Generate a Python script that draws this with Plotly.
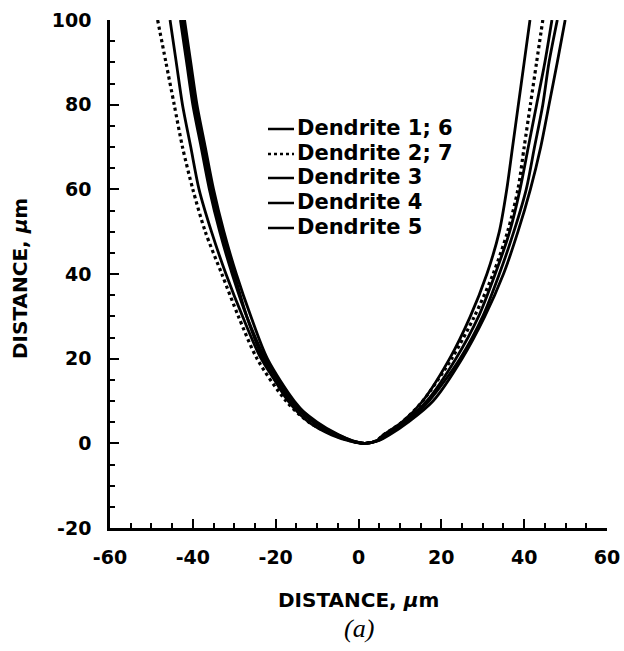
import plotly.graph_objects as go

# y levels (top to bottom) for each branch
y_levels = [100, 90, 80, 70, 60, 50, 40, 30, 20, 10, 5, 2, 0.6]
apex_x = 1.5
apex_y = 0

names = ["Dendrite 1; 6", "Dendrite 2; 7", "Dendrite 3", "Dendrite 4", "Dendrite 5"]
dashes = ["solid", "dot", "solid", "solid", "solid"]

left_d1 = [-45.5, -44.0, -42.5, -40.5, -38.5, -35.5, -32.0, -28.0, -23.5, -16.5, -11.0, -5.5, -1.8]
right_d1 = [46.7, 45.0, 43.0, 41.0, 39.0, 36.5, 33.0, 29.0, 23.5, 16.5, 11.0, 6.5, 4.5]
left_d2 = [-48.5, -46.5, -44.5, -42.5, -40.0, -37.0, -33.0, -29.0, -24.5, -17.5, -12.0, -6.0, -2.0]
right_d2 = [44.5, 43.0, 41.5, 40.0, 38.5, 36.0, 32.5, 28.0, 22.5, 15.5, 10.5, 6.0, 4.3]
left_d3 = [-42.5, -41.0, -39.5, -37.5, -35.5, -33.0, -30.0, -27.0, -23.0, -17.0, -12.0, -6.5, -2.2]
right_d3 = [41.4, 40.0, 38.6, 37.2, 35.8, 34.0, 31.0, 27.0, 22.0, 15.5, 10.5, 6.0, 4.3]
left_d4 = [-42.0, -40.5, -39.0, -37.0, -35.0, -32.5, -29.5, -26.0, -22.0, -15.5, -10.5, -5.0, -1.5]
right_d4 = [48.0, 46.0, 44.5, 42.5, 40.5, 37.5, 34.0, 30.0, 24.5, 17.0, 11.5, 7.0, 4.6]
left_d5 = [-43.0, -41.5, -40.0, -38.0, -36.0, -33.5, -30.5, -27.0, -22.5, -16.0, -10.0, -4.8, -1.4]
right_d5 = [49.9, 48.0, 46.0, 44.0, 41.5, 38.5, 35.0, 30.5, 25.0, 18.0, 12.0, 7.5, 4.8]

lefts = [left_d1, left_d2, left_d3, left_d4, left_d5]
rights = [right_d1, right_d2, right_d3, right_d4, right_d5]

x_ticks = [-60, -40, -20, 0, 20, 40, 60]
y_ticks = [-20, 0, 20, 40, 60, 80, 100]

fig = go.Figure()
for name, dash, lx, rx in zip(names, dashes, lefts, rights):
    xs = lx + [apex_x] + rx[::-1]
    ys = y_levels + [apex_y] + y_levels[::-1]
    fig.add_trace(go.Scatter(
        x=xs, y=ys, mode="lines", name=name, showlegend=False,
        line=dict(color="black", width=2.8 if dash == "solid" else 3.2, dash=dash,
                  shape="spline", smoothing=0.8),
    ))

# manual legend (line sample + label per row), positioned in paper coordinates
W, H = 497.0, 508.0
X0, Y0 = 110.0, 528.0
def px(xp):
    return (xp - X0) / W
def py(yp):
    return (Y0 - yp) / H

legend_rows = [128, 153, 177, 202, 227]
shapes = []
annotations = []
for name, dash, ry in zip(names, dashes, legend_rows):
    shapes.append(dict(type="line", xref="paper", yref="paper",
                       x0=px(268), x1=px(294), y0=py(ry + 1), y1=py(ry + 1),
                       line=dict(color="black", width=2.5, dash=dash)))
    annotations.append(dict(text=name, x=px(295), y=py(ry), xref="paper", yref="paper",
                            showarrow=False, xanchor="left", yanchor="middle",
                            font=dict(family="DejaVu Sans", size=21, color="black", weight="bold")))

bold = dict(family="DejaVu Sans", size=19, color="black", weight="bold")

annotations += [
    dict(text="DISTANCE, <i>μ</i>m", x=0.5, y=py(600), xref="paper", yref="paper",
         showarrow=False, xanchor="center", yanchor="middle",
         font=dict(family="DejaVu Sans", size=20, color="black", weight="bold")),
    dict(text="DISTANCE, <i>μ</i>m", x=px(20), y=py(279), xref="paper", yref="paper",
         showarrow=False, xanchor="center", yanchor="middle", textangle=-90,
         font=dict(family="DejaVu Sans", size=20, color="black", weight="bold")),
    dict(text="<i>(a)</i>", x=0.5, y=py(628), xref="paper", yref="paper",
         showarrow=False, xanchor="center", yanchor="middle",
         font=dict(family="Liberation Serif", size=26, color="black")),
]

fig.update_layout(
    width=624, height=651,
    margin=dict(l=110, r=17, t=20, b=123),
    paper_bgcolor="white", plot_bgcolor="white",
    showlegend=False,
    xaxis=dict(
        range=[-60, 60], tickvals=x_ticks, ticktext=[str(v) for v in x_ticks],
        ticks="inside", ticklen=9, tickwidth=2, tickcolor="black",
        minor=dict(dtick=5, ticks="inside", ticklen=5, tickwidth=1.5, tickcolor="black"),
        showline=True, linewidth=2.5, linecolor="black",
        showgrid=False, zeroline=False, mirror=False, automargin=False,
        tickfont=bold, ticklabelstandoff=10,
    ),
    yaxis=dict(
        range=[-20, 100], tickvals=y_ticks, ticktext=[str(v) for v in y_ticks],
        ticks="inside", ticklen=9, tickwidth=2, tickcolor="black",
        minor=dict(dtick=5, ticks="inside", ticklen=5, tickwidth=1.5, tickcolor="black"),
        showline=True, linewidth=2.5, linecolor="black",
        showgrid=False, zeroline=False, mirror=False, automargin=False,
        tickfont=bold, ticklabelstandoff=12,
    ),
    shapes=shapes,
    annotations=annotations,
)

fig.write_html("out.html")
